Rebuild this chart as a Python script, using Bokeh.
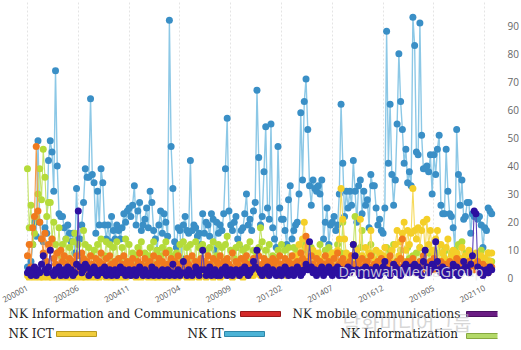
from bokeh.plotting import figure
from bokeh.models import FixedTicker, Range1d, Label, ColumnDataSource
from bokeh.layouts import column
from bokeh.embed import file_html
from bokeh.resources import INLINE
from bokeh.core.properties import value

# ---------------- data ----------------
months = [f"{2000 + m // 12}{m % 12 + 1:02d}" for m in range(266)]
tick_labels = ["200001", "200206", "200411", "200704", "200909",
               "201202", "201407", "201612", "201905", "202110"]
y_ticks = [0, 10, 20, 30, 40, 50, 60, 70, 80, 90]

series_names = ["NK Information and Communications", "NK mobile communications",
                "NK ICT", "NK IT", "NK Informatization"]

nk_it = [4,3,6,12,20,15,49,20,14,13,
18,16,42,49,45,31,74,40,23,22,
22,18,14,19,16,13,16,9,32,14,
14,19,27,39,36,36,64,37,34,16,
31,19,39,34,19,14,19,13,22,17,
14,19,17,14,18,23,20,24,25,22,
26,33,19,24,27,17,19,21,25,18,
31,27,17,14,10,19,24,16,23,20,
15,92,47,32,13,11,18,17,7,19,
22,17,16,42,17,19,18,15,16,12,
23,16,20,19,15,23,21,10,20,16,
19,17,23,39,57,24,19,17,20,22,
14,11,17,18,23,30,19,21,17,24,
27,67,43,19,22,38,54,25,21,55,
18,14,11,47,25,21,21,17,12,28,
33,14,17,19,20,30,59,35,63,71,
53,33,26,35,32,31,33,30,35,14,
20,25,12,19,20,22,17,19,30,62,
41,22,31,25,31,26,42,31,20,33,
35,23,31,26,28,18,37,33,33,25,
19,21,17,16,25,88,41,62,37,26,
35,55,80,63,53,41,46,34,38,33,
93,83,45,44,91,51,39,39,40,38,
44,30,44,37,46,51,26,23,23,46,
31,23,22,18,10,53,37,26,35,21,
22,27,27,16,23,22,22,21,22,19,
11,18,17,25,24,23]

nk_mobile = [2,3,1,2,4,1,3,2,5,8,
3,2,4,10,2,1,3,2,4,1,
2,3,1,4,2,3,1,2,5,24,
4,2,3,5,4,1,3,2,4,3,
1,2,3,2,4,1,2,3,1,2,
3,1,2,4,2,3,1,2,3,1,
2,3,1,2,4,2,1,3,2,1,
2,4,1,3,2,1,2,3,1,2,
3,1,2,5,1,2,3,1,2,6,
2,1,3,2,1,2,4,2,1,3,
10,3,1,2,4,1,2,3,1,2,
1,3,2,4,1,2,3,1,2,3,
2,1,3,2,4,3,1,2,3,6,
4,10,3,2,1,3,2,4,1,2,
3,2,1,2,3,1,2,4,3,1,
2,3,1,2,4,3,1,2,3,5,
3,13,4,2,3,1,2,3,4,1,
2,3,4,2,1,3,2,4,1,3,
2,1,3,4,2,3,12,8,3,2,
1,3,2,4,1,2,3,1,2,4,
3,1,2,4,6,3,2,1,3,5,
4,2,3,1,2,4,5,3,2,4,
3,5,2,4,3,1,6,10,4,2,
3,5,4,13,6,3,2,4,1,3,
2,1,3,5,2,4,1,2,3,6,
4,3,2,5,8,24,23,4,2,3,
1,2,3,2,4,3]

nk_info_comm = [8,12,4,18,22,47,24,20,14,9,
16,6,12,10,14,7,5,9,4,10,
6,8,5,3,7,4,6,5,8,3,
5,9,7,3,6,4,8,5,3,7,
4,6,9,5,3,7,4,8,5,3,
6,4,7,3,5,8,4,6,3,5,
7,4,3,6,9,5,4,7,3,5,
6,3,8,4,5,7,3,6,4,9,
5,3,7,4,6,3,8,5,4,6,
3,7,5,4,8,3,6,4,5,7,
4,6,3,8,5,4,7,3,6,5,
8,4,6,3,7,5,4,9,3,6,
5,3,7,4,6,8,3,5,4,7,
6,4,8,3,5,7,4,6,3,5,
7,4,6,3,8,5,4,7,3,6,
4,8,5,3,6,4,9,7,5,15,
6,4,8,5,3,7,4,6,3,5,
8,4,6,5,3,7,4,9,5,6,
7,4,5,3,6,8,4,5,3,6,
4,7,3,5,6,4,8,3,5,4,
6,3,7,4,5,3,6,8,4,5,
3,6,4,7,14,5,3,6,4,5,
7,3,5,4,6,3,8,4,5,3,
6,4,7,3,5,4,6,3,5,4,
3,6,4,5,3,7,4,6,3,5,
4,3,6,4,5,3,4,6,3,4,
5,3,4,2,3,4]

nk_ict = [1,0,2,1,0,1,2,0,1,0,
1,2,0,1,0,2,1,0,1,2,
0,1,2,0,1,0,2,1,0,1,
2,0,1,0,2,1,0,1,2,0,
1,0,2,1,3,0,1,2,0,1,
0,2,1,0,1,2,0,1,3,1,
2,1,0,2,1,0,1,3,1,0,
1,2,0,1,0,2,1,0,2,1,
0,1,2,0,3,1,0,2,1,4,
1,0,2,1,0,3,1,2,0,1,
2,1,0,3,1,2,0,1,2,1,
0,2,1,3,5,2,1,0,2,1,
3,1,2,0,1,4,2,1,3,1,
2,5,3,1,2,4,1,3,2,6,
3,2,4,1,3,5,2,4,1,3,
4,6,3,8,5,12,9,14,20,11,
8,5,7,10,4,6,9,5,3,7,
6,4,8,5,9,3,6,10,14,32,
21,14,9,6,8,5,12,7,10,6,
21,8,5,11,6,9,17,7,4,10,
6,9,5,8,11,7,4,6,10,5,
12,17,8,13,16,20,10,17,12,16,
32,17,14,18,11,17,20,9,21,12,
17,10,8,14,17,6,12,9,7,11,
14,5,8,10,6,9,4,7,11,5,
8,6,10,4,7,5,9,6,3,8,
5,7,4,9,6,9]

nk_informatization = [39,18,26,12,16,22,30,39,28,46,
36,22,27,27,14,20,12,9,18,8,
12,6,14,4,11,5,13,16,3,12,
8,4,17,12,5,11,3,8,10,4,
12,5,14,3,8,13,4,12,6,11,
3,13,5,7,11,4,14,3,12,6,
9,4,8,11,3,13,5,9,4,8,
11,3,13,5,10,4,8,11,3,13,
4,10,5,8,3,9,7,12,4,13,
5,11,3,12,7,4,13,3,11,6,
12,4,10,3,11,5,13,4,8,12,
3,11,5,12,15,4,10,3,7,11,
5,12,3,10,4,11,6,13,3,10,
4,9,11,18,13,3,10,5,12,4,
8,3,7,10,4,12,3,10,5,11,
4,7,11,3,10,6,4,12,3,10,
7,3,11,6,4,8,3,12,5,6,
10,3,11,4,9,6,3,12,4,9,
20,5,8,3,7,4,12,22,4,8,
11,17,4,7,3,8,12,4,9,3,
7,3,8,6,4,11,3,10,5,12,
6,3,7,10,4,6,3,11,7,4,
8,3,9,4,11,3,6,10,4,9,
6,3,10,4,9,3,11,4,7,10,
3,6,9,4,10,3,12,5,13,4,
9,3,8,5,7,3,6,8,4,10,
6,3,7,9,5,6]

# ---------------- styles ----------------
marker_colors = ["#f07a1e", "#2c10a0", "#f4cf28", "#3a8fc6", "#b5db3a"]
line_colors = ["#f39a4a", "#5b40b8", "#f6da5c", "#8cc8e6", "#c6e56c"]
swatch_colors = ["#d42a2a", "#6b1d84", "#f0cc3c", "#4cb3d6", "#b3d968"]
swatch_lines = ["#9a1a1a", "#4a1060", "#b89a20", "#2f86a8", "#86a840"]

x_idx = list(range(len(months)))
src = ColumnDataSource(dict(x=x_idx, info=nk_info_comm, mobile=nk_mobile,
                            ict=nk_ict, it=nk_it, infz=nk_informatization))
cols = ["info", "mobile", "ict", "it", "infz"]

p = figure(width=521, height=308, output_backend="svg", toolbar_location=None,
           x_range=Range1d(-15.4, 268.3), y_range=Range1d(-0.8, 99),
           y_axis_location="right",
           min_border_left=0, min_border_top=0, min_border_right=24, min_border_bottom=18)
p.outline_line_color = None
p.background_fill_color = "white"

draw_order = [3, 4, 2, 0, 1]
for k in draw_order:
    p.line("x", cols[k], source=src, line_color=line_colors[k],
           line_width=1.4 if k == 3 else 1.1)
    p.scatter("x", cols[k], source=src, size=7, fill_color=marker_colors[k],
              line_color=None)

tick_pos = [months.index(t) for t in tick_labels]
p.xaxis.ticker = FixedTicker(ticks=tick_pos)
p.xaxis.major_label_overrides = {pos: lab for pos, lab in zip(tick_pos, tick_labels)}
p.xaxis.major_label_orientation = 0.5
p.xaxis.major_label_text_font_size = "8px"
p.xaxis.major_label_text_font = "Open Sans"
p.xaxis.major_label_text_color = "#555555"
p.xaxis.major_label_standoff = 1
p.xaxis.axis_line_color = None
p.xaxis.major_tick_line_color = None
p.xaxis.minor_tick_line_color = None

p.yaxis.ticker = FixedTicker(ticks=y_ticks)
p.yaxis.major_label_text_font_size = "10px"
p.yaxis.major_label_text_font = "Open Sans"
p.yaxis.major_label_text_color = "#666666"
p.yaxis.major_label_standoff = 4
p.yaxis.axis_line_color = None
p.yaxis.major_tick_line_color = None
p.yaxis.minor_tick_line_color = None

p.xgrid.grid_line_color = "#e4e4e4"
p.xgrid.grid_line_dash = "2 2"
p.ygrid.grid_line_color = None

wm = Label(x=338, y=0, x_units="screen", y_units="screen",
           text="DamwahMediaGroup", text_font="Open Sans", text_baseline="bottom",
           text_font_size="14.5px", text_color="#e6e6e6", text_alpha=0.85)
p.add_layout(wm)

# ---------------- legend figure ----------------
LH = 42
LW = 497  # frame width shared with the chart above (aligned in the column)
lg = figure(width=521, height=LH, output_backend="svg", toolbar_location=None,
            x_range=Range1d(0, LW), y_range=Range1d(LH, 0),
            min_border_left=0, min_border_right=24, min_border_top=0, min_border_bottom=0)
lg.axis.visible = False
lg.grid.visible = False
lg.outline_line_color = None

text_x = [8, 292, 8, 187, 340]
text_y = [5, 5, 25, 25, 25]
sw_left = [240, 466, 56, 224, 466]
sw_top = [3, 3, 23, 23, 25]

lg.text(x=text_x, y=text_y, text=series_names, text_font=value("DejaVu Serif"),
        text_font_size="12px", text_color="#222222", text_baseline="middle",
        text_align="left")
lg.quad(left=sw_left, right=[l + 40 for l in sw_left], top=sw_top,
        bottom=[t + 5 for t in sw_top], fill_color=swatch_colors,
        line_color=swatch_lines, line_width=1)

lg.text(x=[342], y=[14], text=["담화미디어그룹"], text_font=value("Noto Sans CJK KR"),
        text_font_size="20px", text_color="#bdbdbd", text_alpha=0.6,
        text_baseline="middle", text_align="left")

layout = column(p, lg, spacing=0)
open("out.html", "w").write(file_html(layout, INLINE))
